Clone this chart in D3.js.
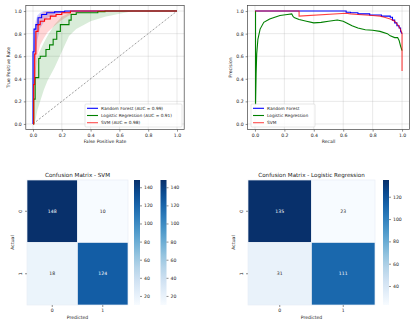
<!DOCTYPE html>
<html><head><meta charset="utf-8">
<script src="https://cdn.jsdelivr.net/npm/d3@7"></script>
<style>body{margin:0;background:#fff}svg{display:block;font-family:"DejaVu Sans",sans-serif}</style>
</head><body><svg id="c" width="414" height="327"></svg>
<script>
// ---------- DATA ----------
const rocLabels = ["Random Forest (AUC = 0.99)", "Logistic Regression (AUC = 0.91)", "SVM (AUC = 0.98)"];
const prLabels = ["Random Forest", "Logistic Regression", "SVM"];
const modelColors = ["blue", "green", "red"];
const axisTicks = [0, 0.2, 0.4, 0.6, 0.8, 1.0];

// ROC curves (fpr, tpr)
const rocRF_fpr = [0,0,0.007,0.007,0.02,0.02,0.035,0.035,0.06,0.06,0.095,0.095,0.15,0.15,0.22,0.22,1];
const rocRF_tpr = [0,0.64,0.64,0.84,0.84,0.88,0.88,0.94,0.94,0.97,0.97,0.985,0.985,0.993,0.993,1,1];
const rocLR_fpr = [0,0.005,0.005,0.015,0.015,0.04,0.04,0.05,0.05,0.09,0.09,0.115,0.115,0.14,0.14,0.165,0.165,0.19,0.19,0.25,0.25,0.265,0.265,0.3,0.3,0.45,0.45,0.5,0.5,1];
const rocLR_tpr = [0,0,0.22,0.22,0.41,0.41,0.58,0.58,0.6,0.6,0.66,0.66,0.70,0.70,0.75,0.75,0.82,0.82,0.88,0.88,0.92,0.92,0.97,0.97,0.985,0.985,0.995,0.995,1,1];
const rocSVM_fpr = [0,0.005,0.005,0.012,0.012,0.02,0.02,0.035,0.035,0.05,0.05,0.08,0.08,0.12,0.12,0.16,0.16,0.2,0.2,0.26,0.26,1];
const rocSVM_tpr = [0,0,0.35,0.35,0.62,0.62,0.82,0.82,0.88,0.88,0.91,0.91,0.93,0.93,0.955,0.955,0.97,0.97,0.985,0.985,1,1];

// ROC confidence bands on a shared fpr grid
const bandFpr =      [0,   0.01,0.02,0.03,0.05,0.075,0.1, 0.15,0.2, 0.25,0.3, 0.4, 0.5, 0.6, 0.7, 1];
const bandRF_lo =    [0,   0.45,0.62,0.74,0.85,0.90, 0.94,0.97,0.985,0.99,1,  1,   1,   1,   1,   1];
const bandRF_hi =    [0.66,0.84,0.92,0.96,0.985,1,   1,   1,   1,   1,   1,   1,   1,   1,   1,   1];
const bandSVM_lo =   [0,   0.3, 0.48,0.6, 0.7, 0.76, 0.81,0.87,0.92,0.96,0.98,0.99,1,   1,   1,   1];
const bandSVM_hi =   [0.4, 0.75,0.88,0.93,0.97,0.99, 1,   1,   1,   1,   1,   1,   1,   1,   1,   1];
const bandLR_lo =    [0,   0,   0.05,0.12,0.2, 0.3,  0.38,0.5, 0.64,0.78,0.84,0.91,0.95,0.975,1,  1];
const bandLR_hi =    [0.27,0.45,0.55,0.6, 0.65,0.72, 0.78,0.88,0.95,0.98,0.99,1,   1,   1,   1,   1];

// Precision-Recall curves (recall, precision)
const prRF_rec = [0,0.62,0.62,0.65,0.65,0.70,0.70,0.78,0.78,0.86,0.86,0.92,0.92,0.935,0.935,0.95,0.95,0.965,0.965,0.98,0.98,0.99,0.99,1];
const prRF_prec = [1,1,0.99,0.99,0.985,0.985,0.975,0.975,0.965,0.965,0.955,0.955,0.945,0.945,0.92,0.92,0.895,0.895,0.87,0.87,0.85,0.85,0.82,0.80];
const prLR_rec = [0.004,0.004,0.008,0.012,0.02,0.035,0.06,0.1,0.17,0.22,0.25,0.26,0.27,0.3,0.35,0.4,0.45,0.5,0.56,0.6,0.63,0.66,0.7,0.75,0.8,0.85,0.9,0.92,0.95,0.97,0.98,0.99,1.0];
const prLR_prec = [1,0.17,0.45,0.62,0.75,0.84,0.9,0.93,0.96,0.97,0.975,0.95,0.94,0.925,0.91,0.895,0.90,0.91,0.92,0.91,0.89,0.87,0.85,0.835,0.83,0.82,0.80,0.78,0.765,0.765,0.74,0.69,0.65];
const prSVM_rec = [0,0.30,0.30,0.62,0.65,0.70,0.75,0.80,0.85,0.88,0.92,0.95,0.97,0.985,0.995,1,1];
const prSVM_prec = [1,1,0.955,0.98,0.975,0.97,0.965,0.96,0.955,0.945,0.93,0.91,0.88,0.85,0.82,0.80,0.47];

// Confusion matrices
const cmLabels = ["0", "1"];
const cmSVM = [[148, 10], [18, 124]];
const cmLR = [[135, 23], [31, 111]];
const cbTicksSVM = [20, 40, 60, 80, 100, 120, 140];
const cbTicksLR = [40, 60, 80, 100, 120];

// ---------- DRAW ----------
const svg = d3.select("#c");
const FS = 4.6;
const txt = "#222";

function lineAxes(x0, x1, y0, y1, xLabel, yLabel) {
  const x = d3.scaleLinear().domain([-0.05, 1.05]).range([x0, x1]);
  const y = d3.scaleLinear().domain([-0.05, 1.05]).range([y1, y0]);
  const g = svg.append("g");
  g.selectAll(".gx").data(axisTicks).join("line")
    .attr("x1", d => x(d)).attr("x2", d => x(d)).attr("y1", y0).attr("y2", y1)
    .attr("stroke", "#b0b0b0").attr("stroke-opacity", 0.35).attr("stroke-width", 0.8);
  g.selectAll(".gy").data(axisTicks).join("line")
    .attr("y1", d => y(d)).attr("y2", d => y(d)).attr("x1", x0).attr("x2", x1)
    .attr("stroke", "#b0b0b0").attr("stroke-opacity", 0.35).attr("stroke-width", 0.8);
  const ax = g.append("g").attr("transform", `translate(0,${y1})`)
    .call(d3.axisBottom(x).tickValues(axisTicks).tickFormat(d3.format(".1f")).tickSize(2).tickPadding(2));
  const ay = g.append("g").attr("transform", `translate(${x0},0)`)
    .call(d3.axisLeft(y).tickValues(axisTicks).tickFormat(d3.format(".1f")).tickSize(2).tickPadding(2));
  [ax, ay].forEach(a => {
    a.select(".domain").remove();
    a.selectAll("text").attr("font-size", FS).attr("fill", txt).attr("font-family", "DejaVu Sans");
    a.selectAll("line").attr("stroke", "#444").attr("stroke-width", 0.6);
  });
  g.append("text").attr("x", (x0 + x1) / 2).attr("y", y1 + 13.5).attr("text-anchor", "middle")
    .attr("font-size", FS).attr("fill", txt).text(xLabel);
  g.append("text").attr("transform", `translate(${x0 - 16},${(y0 + y1) / 2}) rotate(-90)`)
    .attr("text-anchor", "middle").attr("font-size", FS).attr("fill", txt).text(yLabel);
  return {x, y, g, frame: () => g.append("rect").attr("x", x0).attr("y", y0).attr("width", x1 - x0).attr("height", y1 - y0)
    .attr("fill", "none").attr("stroke", "#444").attr("stroke-width", 0.7)};
}

function legend(g, x0, y0, w, labels, sw) {
  const h = 23;
  g.append("rect").attr("x", x0).attr("y", y0).attr("width", w).attr("height", h).attr("rx", 1)
    .attr("fill", "white").attr("fill-opacity", 0.8).attr("stroke", "#ccc").attr("stroke-width", 0.5);
  labels.forEach((l, i) => {
    const yy = y0 + 4.3 + i * 7.2;
    g.append("line").attr("x1", x0 + 2).attr("x2", x0 + 2 + sw).attr("y1", yy).attr("y2", yy)
      .attr("stroke", modelColors[i]).attr("stroke-width", 1.1).attr("stroke-opacity", i === 2 ? 0.7 : 1);
    g.append("text").attr("x", x0 + sw + 5).attr("y", yy + 1.6).attr("font-size", FS - 0.3).attr("fill", txt).text(l);
  });
}

// ROC
{
  const A = lineAxes(25.8, 184.2, 5.4, 129.6, "False Positive Rate", "True Positive Rate");
  const {x, y, g} = A;
  const area = d3.area().x((d, i) => x(bandFpr[i])).y0(d => y(d[0])).y1(d => y(d[1]));
  [[bandRF_lo, bandRF_hi, "blue", 0.18], [bandLR_lo, bandLR_hi, "green", 0.15], [bandSVM_lo, bandSVM_hi, "red", 0.16]].forEach(([lo, hi, c, op]) => {
    g.append("path").datum(lo.map((v, i) => [v, hi[i]])).attr("d", area).attr("fill", c).attr("fill-opacity", op);
  });
  g.append("line").attr("x1", x(0)).attr("y1", y(0)).attr("x2", x(1)).attr("y2", y(1))
    .attr("stroke", "#777").attr("stroke-width", 0.7).attr("stroke-dasharray", "2.2,1.6");
  const line = d3.line().x(d => x(d[0])).y(d => y(d[1]));
  [[rocRF_fpr, rocRF_tpr], [rocLR_fpr, rocLR_tpr], [rocSVM_fpr, rocSVM_tpr]].forEach(([fx, ty], i) => {
    g.append("path").datum(fx.map((v, j) => [v, ty[j]])).attr("d", line)
      .attr("fill", "none").attr("stroke", modelColors[i]).attr("stroke-width", 1.1);
  });
  A.frame();
  legend(g, 85, 104, 97, rocLabels, 11);
}

// PR
{
  const A = lineAxes(247.6, 409.4, 5.4, 129.6, "Recall", "Precision");
  const {x, y, g} = A;
  const line = d3.line().x(d => x(d[0])).y(d => y(d[1]));
  [[prRF_rec, prRF_prec], [prLR_rec, prLR_prec], [prSVM_rec, prSVM_prec]].forEach(([r, p], i) => {
    g.append("path").datum(r.map((v, j) => [v, p[j]])).attr("d", line)
      .attr("fill", "none").attr("stroke", modelColors[i]).attr("stroke-width", 1.1)
      .attr("stroke-opacity", i === 2 ? 0.75 : 1);
  });
  A.frame();
  legend(g, 251, 104, 64, prLabels, 11);
}

// Confusion matrices
function colorbar(cx, y0, y1, vmin, vmax, ticks, id) {
  const grad = svg.append("defs").append("linearGradient").attr("id", id)
    .attr("x1", 0).attr("x2", 0).attr("y1", 1).attr("y2", 0);
  d3.range(0, 1.0001, 0.1).forEach(t => grad.append("stop").attr("offset", t).attr("stop-color", d3.interpolateBlues(t)));
  svg.append("rect").attr("x", cx).attr("y", y0).attr("width", 6).attr("height", y1 - y0).attr("fill", `url(#${id})`);
  const s = d3.scaleLinear().domain([vmin, vmax]).range([y1, y0]);
  const a = svg.append("g").attr("transform", `translate(${cx + 6},0)`)
    .call(d3.axisRight(s).tickValues(ticks).tickSize(2).tickPadding(2));
  a.select(".domain").remove();
  a.selectAll("text").attr("font-size", FS).attr("fill", txt).attr("font-family", "DejaVu Sans");
  a.selectAll("line").attr("stroke", "#444").attr("stroke-width", 0.6);
}

function heatmap(m, x0, x1, y0, y1, title, cbs) {
  const flat = m.flat();
  const vmin = d3.min(flat), vmax = d3.max(flat);
  const xs = d3.scaleBand().domain(cmLabels).range([x0, x1]);
  const ys = d3.scaleBand().domain(cmLabels).range([y0, y1]);
  const col = v => d3.interpolateBlues((v - vmin) / (vmax - vmin));
  const g = svg.append("g");
  const cells = [];
  m.forEach((row, i) => row.forEach((v, j) => cells.push({i, j, v})));
  g.selectAll("rect").data(cells).join("rect")
    .attr("x", d => xs(cmLabels[d.j])).attr("y", d => ys(cmLabels[d.i]))
    .attr("width", xs.bandwidth()).attr("height", ys.bandwidth())
    .attr("fill", d => col(d.v)).attr("stroke", "#e8eef5").attr("stroke-width", 0.7);
  g.selectAll("text.v").data(cells).join("text")
    .attr("x", d => xs(cmLabels[d.j]) + xs.bandwidth() / 2).attr("y", d => ys(cmLabels[d.i]) + ys.bandwidth() / 2 + 1.7)
    .attr("text-anchor", "middle").attr("font-size", FS)
    .attr("fill", d => ((d.v - vmin) / (vmax - vmin)) > 0.55 ? "white" : "#262626").text(d => d.v);
  const ax = g.append("g").attr("transform", `translate(0,${y1})`).call(d3.axisBottom(xs).tickSize(2).tickPadding(2));
  const ay = g.append("g").attr("transform", `translate(${x0},0)`).call(d3.axisLeft(ys).tickSize(2).tickPadding(2));
  [ax, ay].forEach(a => {
    a.select(".domain").remove();
    a.selectAll("text").attr("font-size", FS).attr("fill", txt).attr("font-family", "DejaVu Sans");
    a.selectAll("line").attr("stroke", "#444").attr("stroke-width", 0.6);
  });
  ay.selectAll(".tick text").attr("text-anchor", "middle").attr("dy", 0).attr("x", 0)
    .attr("transform", "translate(-5.5,0) rotate(-90)");
  g.append("text").attr("x", (x0 + x1) / 2).attr("y", y1 + 14).attr("text-anchor", "middle")
    .attr("font-size", FS).attr("fill", txt).text("Predicted");
  g.append("text").attr("transform", `translate(${x0 - 13},${(y0 + y1) / 2}) rotate(-90)`)
    .attr("text-anchor", "middle").attr("font-size", FS).attr("fill", txt).text("Actual");
  g.append("text").attr("x", (x0 + x1) / 2).attr("y", y0 - 3.5).attr("text-anchor", "middle")
    .attr("font-size", 5.6).attr("fill", txt).text(title);
  cbs.forEach((cx, k) => colorbar(cx, y0, y1, vmin, vmax, title.includes("SVM") ? cbTicksSVM : cbTicksLR, title.replace(/\W/g, "") + k));
}

heatmap(cmSVM, 27, 128, 180, 305, "Confusion Matrix - SVM", [134, 160.5]);
heatmap(cmLR, 248, 375, 180, 305, "Confusion Matrix - Logistic Regression", [383]);
</script></body></html>
